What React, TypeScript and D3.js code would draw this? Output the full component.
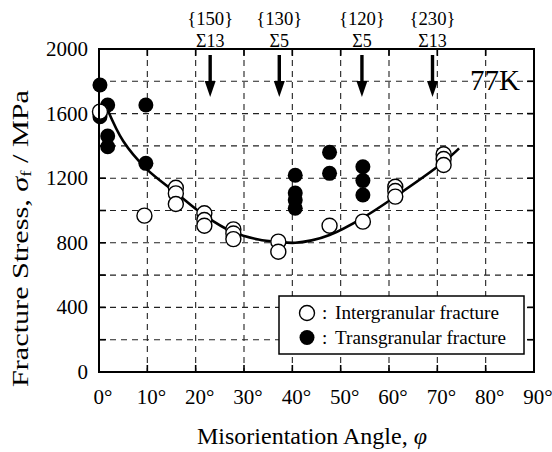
import React from "react";
import * as d3 from "d3";

const interAngle = [0.2, 9.4, 15.9, 15.9, 15.9, 21.8, 21.8, 21.8, 27.8, 27.8, 27.8, 37.1, 37.1, 47.7, 54.6, 61.3, 61.3, 61.3, 71.3, 71.3, 71.3];
const interStress = [1612, 968, 1141, 1106, 1040, 983, 941, 906, 883, 858, 823, 807, 745, 906, 931, 1147, 1121, 1086, 1348, 1319, 1282];

const transAngle = [0.2, 1.8, 0.2, 1.8, 1.8, 9.7, 9.7, 40.6, 40.6, 40.6, 40.6, 47.7, 47.7, 54.6, 54.6, 54.6];
const transStress = [1777, 1653, 1581, 1461, 1395, 1653, 1292, 1218, 1108, 1065, 1014, 1360, 1230, 1271, 1185, 1096];

const fitAngle = [1.8, 5, 9.7, 15.9, 21.8, 27.8, 33, 37, 40.6, 44, 47.7, 54.6, 61.3, 71.3, 74.5];
const fitStress = [1622, 1430, 1261, 1110, 970, 865, 820, 805, 800, 815, 848, 955, 1086, 1300, 1385];

const boundaryAngle = [23, 37.3, 54.4, 69];
const boundaryPlane = ["{150}", "{130}", "{120}", "{230}"];
const boundarySigma = ["Σ13", "Σ5", "Σ5", "Σ13"];

const xTicks = [0, 10, 20, 30, 40, 50, 60, 70, 80, 90];
const yTicks = [0, 400, 800, 1200, 1600, 2000];
const yGrid = [200, 400, 600, 800, 1000, 1200, 1400, 1600, 1800];
const xGrid = [10, 20, 30, 40, 50, 60, 70, 80];

const FONT = "'Liberation Serif', 'Times New Roman', serif";

export default function App() {
  const L = 99, R = 534, T = 49, B = 372;
  const x = d3.scaleLinear().domain([0, 90]).range([L, R]);
  const y = d3.scaleLinear().domain([0, 2000]).range([B, T]);
  const line = d3
    .line<number>()
    .x((_, i) => x(fitAngle[i]))
    .y((_, i) => y(fitStress[i]))
    .curve(d3.curveCatmullRom.alpha(0.5));
  const r = 7.5;
  const tk = 7;

  return (
    <svg width={552} height={452} style={{ position: "absolute", left: 0, top: 0, background: "#fff" }} fontFamily={FONT}>
      <rect x={0} y={0} width={552} height={452} fill="#fff" />
      {/* grid */}
      {yGrid.map((v) => (
        <line key={"gy" + v} x1={L} x2={R} y1={y(v)} y2={y(v)} stroke="#222" strokeWidth={1.1} strokeDasharray="6,5" />
      ))}
      {xGrid.map((v) => (
        <line key={"gx" + v} x1={x(v)} x2={x(v)} y1={T} y2={B} stroke="#222" strokeWidth={1.1} strokeDasharray="6,5" />
      ))}
      {/* ticks */}
      {yGrid.map((v) => (
        <g key={"ty" + v}>
          <line x1={L} x2={L + tk} y1={y(v)} y2={y(v)} stroke="#000" strokeWidth={1.6} />
          <line x1={R} x2={R - tk} y1={y(v)} y2={y(v)} stroke="#000" strokeWidth={1.6} />
        </g>
      ))}
      {xGrid.map((v) => (
        <g key={"tx" + v}>
          <line x1={x(v)} x2={x(v)} y1={B} y2={B - tk} stroke="#000" strokeWidth={1.6} />
          <line x1={x(v)} x2={x(v)} y1={T} y2={T + tk} stroke="#000" strokeWidth={1.6} />
        </g>
      ))}
      {/* legend box */}
      <rect x={279} y={296} width={245} height={58} fill="#fff" stroke="#000" strokeWidth={1.5} />
      <circle cx={307} cy={313} r={7.5} fill="#fff" stroke="#000" strokeWidth={1.4} />
      <circle cx={307} cy={337.5} r={7.5} fill="#000" />
      <text x={322} y={319} fontSize={19}>:</text>
      <text x={322} y={344} fontSize={19}>:</text>
      <text x={335} y={319} fontSize={19} textLength={164} lengthAdjust="spacingAndGlyphs">Intergranular fracture</text>
      <text x={335} y={344} fontSize={19} textLength={171} lengthAdjust="spacingAndGlyphs">Transgranular fracture</text>
      {/* fit curve */}
      <path d={line(fitAngle) || ""} fill="none" stroke="#000" strokeWidth={2.6} />
      {/* points */}
      {transAngle.map((a, i) => (
        <circle key={"t" + i} cx={x(a)} cy={y(transStress[i])} r={r} fill="#000" />
      ))}
      {interAngle.map((a, i) => (
        <circle key={"o" + i} cx={x(a)} cy={y(interStress[i])} r={r} fill="#fff" stroke="#000" strokeWidth={1.4} />
      ))}
      {/* frame */}
      <rect x={L} y={T} width={R - L} height={B - T} fill="none" stroke="#000" strokeWidth={2} />
      {/* arrows and labels */}
      {boundaryAngle.map((a, i) => (
        <g key={"b" + i}>
          <line x1={x(a)} x2={x(a)} y1={55} y2={84} stroke="#000" strokeWidth={3.4} />
          <path d={`M${x(a) - 5.5},${81} L${x(a) + 5.5},${81} L${x(a)},${97} Z`} fill="#000" />
          <text x={x(a)} y={25} fontSize={18} textAnchor="middle" textLength={46} lengthAdjust="spacingAndGlyphs">{boundaryPlane[i]}</text>
          <text x={x(a)} y={46.5} fontSize={18} textAnchor="middle">{boundarySigma[i]}</text>
        </g>
      ))}
      <text x={470} y={90} fontSize={29}>77K</text>
      {/* axis labels */}
      {yTicks.map((v) => (
        <text key={"yl" + v} x={88} y={y(v)} fontSize={21} textAnchor="end" dominantBaseline="central">{v}</text>
      ))}
      {xTicks.map((v) => (
        <text key={"xl" + v} x={x(v) + 4} y={404} fontSize={21} textAnchor="middle">{v}°</text>
      ))}
      <text x={197} y={444} fontSize={23} textLength={230} lengthAdjust="spacingAndGlyphs">
        Misorientation Angle, <tspan fontStyle="italic">φ</tspan>
      </text>
      <text transform={`translate(28,387) rotate(-90)`} fontSize={24} textLength={297} lengthAdjust="spacingAndGlyphs">
        Fracture Stress, <tspan fontStyle="italic">σ</tspan><tspan fontSize={15} dy={3}>f</tspan><tspan dy={-3}> / MPa</tspan>
      </text>
    </svg>
  );
}
